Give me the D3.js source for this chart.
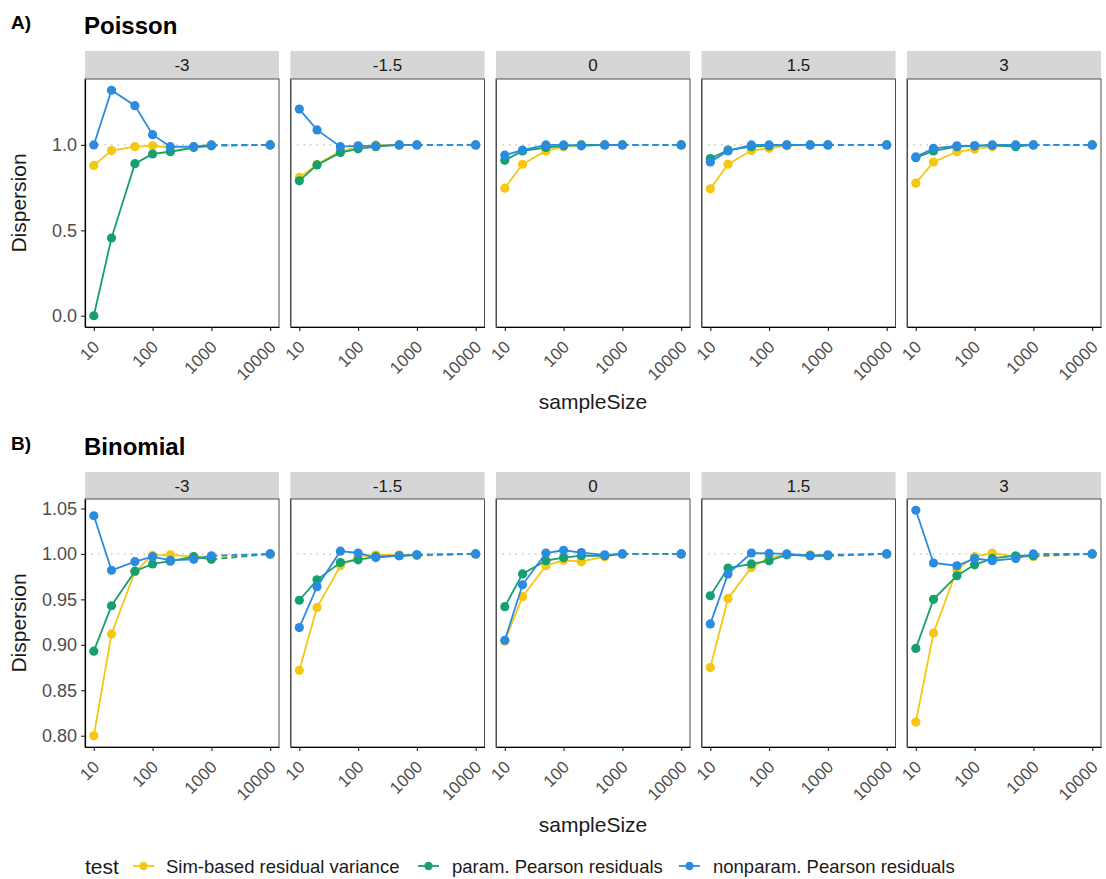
<!DOCTYPE html>
<html>
<head>
<meta charset="utf-8">
<script src="https://cdn.jsdelivr.net/npm/d3@7"></script>
<style>
  html, body { margin: 0; padding: 0; background: #fff; }
  svg { display: block; font-family: "Liberation Sans", Arial, Helvetica, sans-serif; }
</style>
</head>
<body>
<svg id="chart" width="1106" height="879"></svg>
<script>
// Sample sizes simulated for every facet
const sampleSizes = [10, 20, 50, 100, 200, 500, 1000, 10000];
// Facet labels (intercept of the simulated model)
const facets = ["-3", "-1.5", "0", "1.5", "3"];
const tests = ["Sim-based residual variance", "param. Pearson residuals", "nonparam. Pearson residuals"];
const testColors = ["#F5C710", "#16A06E", "#2A8BE0"];
const xTicks = [10, 100, 1000, 10000];
const poissonTicks = [0.0, 0.5, 1.0];
const binomialTicks = [0.80, 0.85, 0.90, 0.95, 1.00, 1.05];

// Poisson: dispersion estimates, one row per facet
const poissonSim = [
  [0.88, 0.967, 0.99, 0.995, 0.985, 0.99, 1.0, 1.0],
  [0.81, 0.885, 0.965, 0.985, 1.0, 1.0, 1.0, 1.0],
  [0.747, 0.887, 0.965, 0.99, 1.0, 1.0, 1.0, 1.0],
  [0.743, 0.887, 0.967, 0.98, 0.995, 1.0, 1.0, 1.0],
  [0.776, 0.90, 0.96, 0.975, 0.99, 1.0, 1.0, 1.0]
];
const poissonParam = [
  [0.0, 0.455, 0.89, 0.947, 0.96, 0.985, 0.995, 1.0],
  [0.79, 0.883, 0.955, 0.977, 0.99, 1.0, 1.0, 1.0],
  [0.91, 0.965, 0.985, 0.995, 1.0, 1.0, 1.0, 1.0],
  [0.92, 0.97, 0.99, 0.995, 1.0, 1.0, 1.0, 1.0],
  [0.925, 0.965, 0.99, 0.995, 0.998, 0.99, 1.0, 1.0]
];
const poissonNonparam = [
  [1.0, 1.32, 1.23, 1.06, 0.99, 0.99, 1.0, 1.0],
  [1.21, 1.088, 0.99, 0.995, 0.995, 1.0, 1.0, 1.0],
  [0.94, 0.97, 1.0, 1.0, 0.995, 1.0, 1.0, 1.0],
  [0.90, 0.965, 1.0, 1.0, 1.0, 1.0, 1.0, 1.0],
  [0.93, 0.98, 0.995, 0.995, 1.0, 1.0, 1.0, 1.0]
];

// Binomial: dispersion estimates, one row per facet
const binomialSim = [
  [0.800, 0.912, 0.9805, 0.9985, 0.999, 0.997, 0.997, 1.0],
  [0.872, 0.941, 0.987, 0.997, 0.999, 0.999, 0.998, 1.0],
  [0.904, 0.953, 0.987, 0.993, 0.9915, 0.997, 1.0, 1.0],
  [0.875, 0.951, 0.985, 0.996, 0.9995, 0.999, 0.998, 1.0],
  [0.815, 0.913, 0.9825, 0.997, 1.001, 0.997, 0.997, 1.0]
];
const binomialParam = [
  [0.893, 0.943, 0.981, 0.989, 0.992, 0.997, 0.994, 1.0],
  [0.949, 0.9715, 0.9905, 0.9935, 0.997, 0.998, 0.999, 1.0],
  [0.942, 0.978, 0.9925, 0.996, 0.998, 0.998, 1.0, 1.0],
  [0.954, 0.9845, 0.989, 0.9925, 0.999, 0.998, 0.998, 1.0],
  [0.896, 0.950, 0.976, 0.988, 0.995, 0.998, 0.998, 1.0]
];
const binomialNonparam = [
  [1.042, 0.982, 0.9915, 0.997, 0.993, 0.994, 0.998, 1.0],
  [0.919, 0.964, 1.003, 1.001, 0.996, 0.998, 0.999, 1.0],
  [0.905, 0.966, 1.001, 1.004, 1.0015, 0.999, 1.0, 1.0],
  [0.923, 0.978, 1.001, 1.0005, 1.0, 0.998, 0.999, 1.0],
  [1.048, 0.990, 0.987, 0.995, 0.9925, 0.995, 1.0, 1.0]
];

const svg = d3.select("#chart");
const textCol = "#4d4d4d";
const titleCol = "#1a1a1a";

const panelLefts = [85, 290.5, 496, 701.5, 907];
const panelW = 194;

// ggplot-style 5% expansion on a log10 axis
const logMin = Math.log10(d3.min(sampleSizes)), logMax = Math.log10(d3.max(sampleSizes));
const logPad = (logMax - logMin) * 0.05;
const x = d3.scaleLog()
  .domain([Math.pow(10, logMin - logPad), Math.pow(10, logMax + logPad)])
  .range([0, panelW]);

function drawRow(cfg) {
  const { letter, title, letterY, titleY, stripTop, panelTop, panelBottom, series, ticks, tickFmt, xTitleY } = cfg;
  const all = series.flat(2);
  const lo = d3.min(all), hi = d3.max(all);
  const pad = (hi - lo) * 0.05;
  const y = d3.scaleLinear().domain([lo - pad, hi + pad]).range([panelBottom, panelTop]);
  const panelH = panelBottom - panelTop;

  svg.append("text").attr("x", 11).attr("y", letterY)
    .attr("font-size", 19).attr("font-weight", "bold").attr("fill", "#000").text(letter);
  svg.append("text").attr("x", 84).attr("y", titleY)
    .attr("font-size", 24).attr("font-weight", "bold").attr("fill", "#000").text(title);

  facets.forEach((f, fi) => {
    const g = svg.append("g").attr("transform", `translate(${panelLefts[fi]},0)`);

    // strip
    g.append("rect").attr("x", 0).attr("y", stripTop).attr("width", panelW)
      .attr("height", panelTop - stripTop).attr("fill", "#d6d6d6");
    g.append("text").attr("x", panelW / 2).attr("y", (stripTop + panelTop) / 2)
      .attr("dy", "0.36em").attr("text-anchor", "middle")
      .attr("font-size", 17).attr("fill", titleCol).text(f);

    // panel frame
    g.append("rect").attr("x", 0).attr("y", panelTop).attr("width", panelW)
      .attr("height", panelH).attr("fill", "#fff").attr("stroke", "#4d4d4d").attr("stroke-width", 1);

    // reference line at dispersion 1
    g.append("line").attr("x1", 0).attr("x2", panelW)
      .attr("y1", y(1)).attr("y2", y(1))
      .attr("stroke", "#bdbdbd").attr("stroke-width", 1.3).attr("stroke-dasharray", "1.5,5");

    // x axis
    const xa = g.append("g").attr("transform", `translate(0,${panelBottom})`)
      .call(d3.axisBottom(x).tickValues(xTicks).tickFormat(d3.format("d"))
        .tickSizeInner(4).tickSizeOuter(0).tickPadding(3));
    xa.select(".domain").attr("stroke", "#000").attr("stroke-width", 1.2);
    xa.selectAll(".tick line").attr("stroke", "#222").attr("stroke-width", 1.1);
    xa.selectAll(".tick text")
      .attr("font-size", 17).attr("fill", textCol)
      .attr("text-anchor", "end").attr("dy", null).attr("y", null)
      .attr("transform", "translate(3,18) rotate(-45)")
      .attr("dominant-baseline", "middle");

    // y axis labelled on the first facet only
    const ya = g.append("g").call(
      d3.axisLeft(y).tickValues(ticks).tickFormat(tickFmt)
        .tickSizeInner(4).tickSizeOuter(0).tickPadding(4));
    ya.select(".domain").attr("stroke", "#000").attr("stroke-width", 1.2);
    ya.selectAll(".tick line").attr("stroke", "#222").attr("stroke-width", 1.1);
    if (fi === 0) {
      ya.selectAll(".tick text").attr("font-size", 18).attr("fill", textCol);
    } else {
      ya.selectAll(".tick").remove();
      ya.select(".domain").attr("stroke", "#4d4d4d").attr("stroke-width", 1);
    }

    // series: solid through 1000, dashed last step to 10000
    series.forEach((s, si) => {
      const vals = s[fi];
      const pts = sampleSizes.map((n, i) => [x(n), y(vals[i])]);
      const line = d3.line();
      g.append("path").attr("d", line(pts.slice(0, 7)))
        .attr("fill", "none").attr("stroke", testColors[si]).attr("stroke-width", 1.8);
      g.append("path").attr("d", line(pts.slice(6)))
        .attr("fill", "none").attr("stroke", testColors[si]).attr("stroke-width", 1.8)
        .attr("stroke-dasharray", "6,4");
      g.selectAll(null).data(pts).enter().append("circle")
        .attr("cx", d => d[0]).attr("cy", d => d[1]).attr("r", 4.6)
        .attr("fill", testColors[si]);
    });
  });

  // y axis title
  svg.append("text")
    .attr("transform", `translate(26,${(panelTop + panelBottom) / 2}) rotate(-90)`)
    .attr("text-anchor", "middle").attr("font-size", 21).attr("fill", titleCol).text("Dispersion");

  // x axis title
  const xMid = (panelLefts[0] + panelLefts[4] + panelW) / 2;
  svg.append("text").attr("x", xMid).attr("y", xTitleY)
    .attr("text-anchor", "middle").attr("font-size", 21).attr("fill", titleCol).text("sampleSize");
}

drawRow({
  letter: "A)", title: "Poisson", letterY: 29, titleY: 34,
  stripTop: 51, panelTop: 79, panelBottom: 327,
  series: [poissonSim, poissonParam, poissonNonparam],
  ticks: poissonTicks, tickFmt: d3.format(".1f"), xTitleY: 409
});

drawRow({
  letter: "B)", title: "Binomial", letterY: 450, titleY: 455,
  stripTop: 472, panelTop: 499, panelBottom: 747,
  series: [binomialSim, binomialParam, binomialNonparam],
  ticks: binomialTicks, tickFmt: d3.format(".2f"), xTitleY: 832
});

// legend
const legY = 866;
svg.append("text").attr("x", 85).attr("y", legY).attr("dy", "0.36em")
  .attr("font-size", 21).attr("fill", titleCol).text("test");
const legKeyX = [133, 418, 679];
const legTextX = [166, 452, 713];
tests.forEach((t, i) => {
  const lg = svg.append("g").attr("transform", `translate(${legKeyX[i]},${legY})`);
  lg.append("line").attr("x1", 0).attr("x2", 21).attr("stroke", testColors[i]).attr("stroke-width", 1.8);
  lg.append("circle").attr("cx", 10.5).attr("cy", 0).attr("r", 4.2).attr("fill", testColors[i]);
  svg.append("text").attr("x", legTextX[i]).attr("y", legY).attr("dy", "0.36em")
    .attr("font-size", 18.5).attr("fill", titleCol).text(t);
});
</script>
</body>
</html>
